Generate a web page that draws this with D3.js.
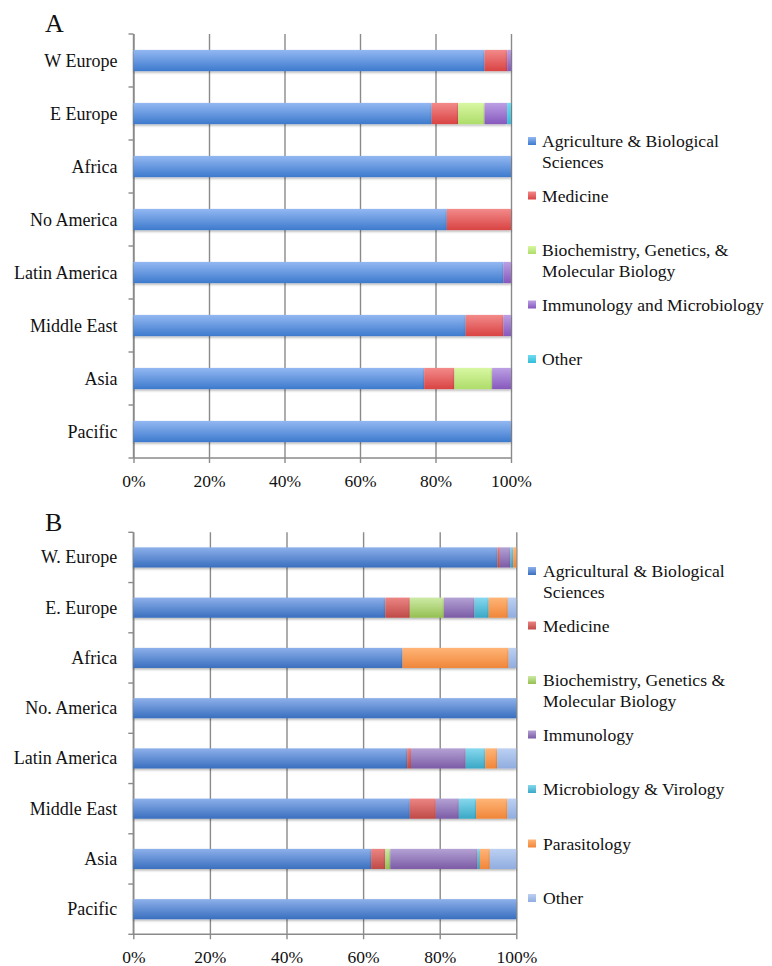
<!DOCTYPE html>
<html>
<head>
<meta charset="utf-8">
<script src="https://cdn.jsdelivr.net/npm/d3@7"></script>
<style>
  body { margin: 0; background: #fff; }
  svg text { font-family: "Liberation Serif", "Times New Roman", serif; fill: #111; }
</style>
</head>
<body>
<svg id="chart"></svg>
<script>
// ---- data, panel A ----
const regionsA = ["W Europe", "E Europe", "Africa", "No America", "Latin America", "Middle East", "Asia", "Pacific"];
const subjectsA = ["Agriculture & Biological\nSciences", "Medicine", "Biochemistry, Genetics, &\nMolecular Biology", "Immunology and Microbiology", "Other"];
const agriA  = [93, 79, 100, 83, 98, 88, 77, 100];
const medA   = [6, 7, 0, 17, 0, 10, 8, 0];
const bioA   = [0, 7, 0, 0, 0, 0, 10, 0];
const immA   = [1, 6, 0, 0, 2, 2, 5, 0];
const otherA = [0, 1, 0, 0, 0, 0, 0, 0];

// ---- data, panel B ----
const regionsB = ["W. Europe", "E. Europe", "Africa", "No. America", "Latin America", "Middle East", "Asia", "Pacific"];
const subjectsB = ["Agricultural & Biological\nSciences", "Medicine", "Biochemistry, Genetics &\nMolecular Biology", "Immunology", "Microbiology & Virology", "Parasitology", "Other"];
const agriB  = [95.1, 65.8, 70.3, 100, 71.5, 72.2, 62.1, 100];
const medB   = [0.6, 6.4, 0, 0, 1.0, 6.8, 3.7, 0];
const bioB   = [0, 8.9, 0, 0, 0, 0, 1.3, 0];
const immB   = [2.8, 8.0, 0, 0, 14.3, 6.0, 22.8, 0];
const microB = [0.7, 3.7, 0, 0, 5.1, 4.5, 0.6, 0];
const paraB  = [0.8, 5.0, 27.7, 0, 3.1, 8.2, 2.6, 0];
const otherB = [0, 2.2, 2.0, 0, 5.0, 2.3, 6.9, 0];

const xTicks = [0, 20, 40, 60, 80, 100];

// gradient colours (top, bottom)
const coloursA = [["#93b8f2", "#3d7acd"], ["#f38a8a", "#d94343"], ["#d8f7a2", "#aedd6a"], ["#bca0e4", "#8658bd"], ["#6fdcf0", "#35bcd9"]];
const coloursB = [["#8db0ea", "#3a6fbf"], ["#eb8583", "#bf4a47"], ["#cdeaa6", "#95c052"], ["#b4a2d4", "#7b5ba6"], ["#86d8ee", "#3aa8c6"], ["#ffb577", "#f0863a"], ["#bcd0f2", "#90ade0"]];

const svg = d3.select("#chart").attr("width", 772).attr("height", 966);
const defs = svg.append("defs");

const shadow = defs.append("filter").attr("id", "shadow")
    .attr("x", "-5%").attr("y", "-20%").attr("width", "110%").attr("height", "160%");
shadow.append("feDropShadow")
    .attr("dx", 0).attr("dy", 1.5).attr("stdDeviation", 1)
    .attr("flood-color", "#000").attr("flood-opacity", 0.3);

function drawPanel(p) {
    const ids = p.colours.map((c, i) => {
        const id = "grad" + p.letter + i;
        const g = defs.append("linearGradient").attr("id", id)
            .attr("x1", 0).attr("y1", 0).attr("x2", 0).attr("y2", 1);
        g.append("stop").attr("offset", "0%").attr("stop-color", c[0]);
        g.append("stop").attr("offset", "100%").attr("stop-color", c[1]);
        return "url(#" + id + ")";
    });

    const x = d3.scaleLinear().domain([0, 100]).range([p.x0, p.x1]);
    const y = d3.scaleBand().domain(p.regions).range([p.top, p.bottom]).paddingInner(0.6).paddingOuter(0.3);
    const step = (p.bottom - p.top) / p.regions.length;

    const g = svg.append("g");

    // panel letter
    g.append("text").attr("x", 45).attr("y", p.letterY)
        .style("font-size", "26px").text(p.letter);

    // vertical gridlines + x tick labels
    const xAxis = g.append("g")
        .attr("transform", "translate(0," + p.bottom + ")")
        .call(d3.axisBottom(x).tickValues(xTicks).tickSize(-(p.bottom - p.top)).tickFormat(d => d + "%"));
    xAxis.select(".domain").remove();
    xAxis.selectAll(".tick line")
        .attr("y1", 5).attr("stroke", "#8a8a8a").attr("stroke-width", 1.4);
    xAxis.selectAll(".tick text")
        .attr("y", p.labelY - p.bottom).attr("dy", 0)
        .style("font-size", "17.5px").style("font-family", "Liberation Serif, serif").attr("fill", "#111");

    // axis lines
    g.append("line").attr("x1", p.x0).attr("x2", p.x1).attr("y1", p.bottom).attr("y2", p.bottom)
        .attr("stroke", "#8a8a8a").attr("stroke-width", 1.4);
    g.append("line").attr("x1", p.x0).attr("x2", p.x0).attr("y1", p.top).attr("y2", p.bottom)
        .attr("stroke", "#8a8a8a").attr("stroke-width", 1.4);
    g.append("g").selectAll("line")
        .data(d3.range(p.regions.length + 1))
        .join("line")
        .attr("x1", p.x0 - 5).attr("x2", p.x0)
        .attr("y1", i => p.top + i * step).attr("y2", i => p.top + i * step)
        .attr("stroke", "#8a8a8a").attr("stroke-width", 1.4);

    // category labels
    g.append("g").selectAll("text")
        .data(p.regions)
        .join("text")
        .attr("x", p.x0 - 16)
        .attr("y", d => y(d) + y.bandwidth() / 2 + 6)
        .attr("text-anchor", "end")
        .style("font-size", "18px")
        .text(d => d);

    // stacked bars
    const rows = p.regions.map((r, i) => {
        const o = { region: r };
        p.series.forEach((s, j) => { o[j] = s[i]; });
        return o;
    });
    const stack = d3.stack().keys(p.series.map((s, j) => j))(rows);

    g.append("g").selectAll("g")
        .data(stack)
        .join("g")
        .attr("fill", d => ids[d.key])
        .attr("filter", "url(#shadow)")
        .selectAll("rect")
        .data(d => d.filter(v => v[1] - v[0] > 0))
        .join("rect")
        .attr("x", d => x(d[0]))
        .attr("width", d => x(d[1]) - x(d[0]))
        .attr("y", d => y(d.data.region))
        .attr("height", y.bandwidth());

    // legend
    const leg = g.append("g").selectAll("g")
        .data(p.subjects)
        .join("g")
        .attr("transform", (d, i) => "translate(" + p.legendX + "," + (p.legendY0 + i * p.legendStep) + ")");
    leg.append("rect")
        .attr("x", 0).attr("y", -4).attr("width", 8).attr("height", 8)
        .attr("fill", (d, i) => ids[i]);
    leg.append("text")
        .attr("x", p.legendTextX - p.legendX)
        .attr("y", 6)
        .style("font-size", "17.6px")
        .selectAll("tspan")
        .data(d => d.split("\n"))
        .join("tspan")
        .attr("x", p.legendTextX - p.legendX)
        .attr("dy", (d, i) => i === 0 ? 0 : 21)
        .text(d => d);
}

drawPanel({
    letter: "A", letterY: 32,
    regions: regionsA, subjects: subjectsA,
    series: [agriA, medA, bioA, immA, otherA],
    colours: coloursA,
    x0: 133.5, x1: 511, top: 34, bottom: 458, labelY: 487,
    legendX: 528, legendTextX: 542, legendY0: 141, legendStep: 54.5
});

drawPanel({
    letter: "B", letterY: 531,
    regions: regionsB, subjects: subjectsB,
    series: [agriB, medB, bioB, immB, microB, paraB, otherB],
    colours: coloursB,
    x0: 133.3, x1: 516.3, top: 532.3, bottom: 934.3, labelY: 963,
    legendX: 528, legendTextX: 543, legendY0: 571, legendStep: 54.5
});
</script>
</body>
</html>
